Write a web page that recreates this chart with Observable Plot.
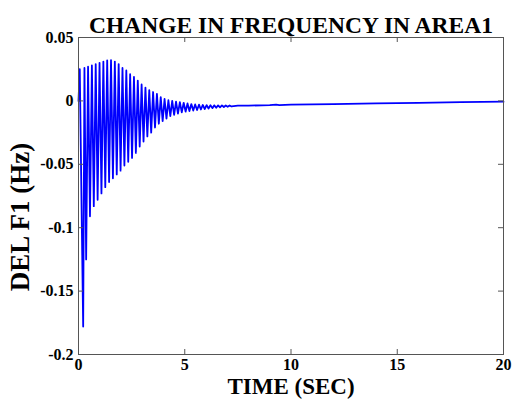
<!DOCTYPE html>
<html>
<head>
<meta charset="utf-8">
<script src="https://cdn.jsdelivr.net/npm/d3@7"></script>
<script src="https://cdn.jsdelivr.net/npm/@observablehq/plot@0.6"></script>
<style>
  html, body { margin: 0; padding: 0; background: #fff; }
</style>
</head>
<body>
<div id="chart"></div>
<script>
const chartTitle = "CHANGE IN FREQUENCY IN AREA1";
const xLabel = "TIME (SEC)";
const yLabel = "DEL F1 (Hz)";
const xTicks = [0, 5, 10, 15, 20];
const xTickLabels = ["0", "5", "10", "15", "20"];
const yTicks = [0.05, 0, -0.05, -0.1, -0.15, -0.2];
const yTickLabels = ["0.05", "0", "-0.05", "-0.1", "-0.15", "-0.2"];

// time (s) of successive peaks / troughs
const time = [
  0.00, 0.06, 0.22, 0.28, 0.36, 0.45, 0.54, 0.63, 0.72, 0.81,
  0.90, 0.99, 1.08, 1.17, 1.26, 1.35, 1.44, 1.53, 1.62, 1.71,
  1.80, 1.89, 1.98, 2.07, 2.16, 2.25, 2.34, 2.43, 2.52, 2.61,
  2.70, 2.79, 2.88, 2.97, 3.06, 3.15, 3.24, 3.33, 3.42, 3.51,
  3.60, 3.69, 3.78, 3.87, 3.96, 4.05, 4.14, 4.23, 4.32, 4.41,
  4.50, 4.59, 4.68, 4.77, 4.86, 4.95, 5.04, 5.13, 5.22, 5.31,
  5.40, 5.49, 5.58, 5.67, 5.76, 5.85, 5.94, 6.03, 6.12, 6.21,
  6.30, 6.39, 6.48, 6.57, 6.66, 6.75, 6.84, 6.93, 7.02, 7.11,
  7.20, 7.50, 8.00, 9.00, 9.30, 9.45, 10.0, 12.0, 14.0, 16.0,
  18.0, 20.0
];
// DEL F1 (Hz) at those times
const delF1 = [
  0.000, 0.025, -0.178, 0.026, -0.125, 0.027, -0.091, 0.028, -0.083, 0.029,
  -0.078, 0.030, -0.073, 0.031, -0.068, 0.032, -0.064, 0.0322, -0.061, 0.031,
  -0.058, 0.029, -0.055, 0.026, -0.051, 0.024, -0.048, 0.021, -0.045, 0.019,
  -0.041, 0.016, -0.036, 0.013, -0.032, 0.0105, -0.028, 0.0085, -0.025, 0.007,
  -0.021, 0.0055, -0.018, 0.003, -0.016, 0.0015, -0.014, 0.0005, -0.012, 0.000,
  -0.011, -0.0005, -0.010, -0.001, -0.009, -0.0015, -0.0085, -0.002, -0.008, -0.0025,
  -0.0076, -0.0028, -0.0072, -0.003, -0.0068, -0.0032, -0.0064, -0.0033, -0.006, -0.0034,
  -0.0057, -0.0035, -0.0054, -0.0035, -0.0051, -0.0035, -0.0048, -0.0036, -0.0046, -0.0036,
  -0.0044, -0.0038, -0.0037, -0.0034, -0.0030, -0.0034, -0.0030, -0.0025, -0.0020, -0.0015,
  -0.0010, -0.0006
];

const W = 512, H = 403;
const mL = 78, mR = 9, mT = 37, mB = 49;
const plotW = W - mL - mR, plotH = H - mT - mB;
const tick = 5;
const font = "'Liberation Serif', 'Times New Roman', serif";

const rows = time.map((t, i) => ({t, v: delF1[i]}));

const chart = Plot.plot({
  width: W,
  height: H,
  marginLeft: mL,
  marginRight: mR,
  marginTop: mT,
  marginBottom: mB,
  style: {fontFamily: font, fontWeight: "bold", background: "#fff", color: "#000"},
  x: {domain: [0, 20]},
  y: {domain: [-0.2, 0.05]},
  marks: [
    Plot.line(rows, {x: "t", y: "v", stroke: "#0000ff", strokeWidth: 1.8}),
    // inward ticks on all four sides
    Plot.tickX(xTicks, {x: d => d, insetTop: plotH - tick, stroke: "#555"}),
    Plot.tickX(xTicks, {x: d => d, insetBottom: plotH - tick, stroke: "#555"}),
    Plot.tickY(yTicks, {y: d => d, insetRight: plotW - tick, stroke: "#555"}),
    Plot.tickY(yTicks, {y: d => d, insetLeft: plotW - tick, stroke: "#555"}),
    Plot.frame({stroke: "#555"}),
    Plot.axisX(xTicks, {tickSize: 0, tickPadding: 4, fontSize: 16, fontWeight: "bold", label: null,
      tickFormat: d => xTickLabels[xTicks.indexOf(d)]}),
    Plot.axisY(yTicks, {tickSize: 0, tickPadding: 5, fontSize: 16, fontWeight: "bold", label: null,
      tickFormat: d => yTickLabels[yTicks.indexOf(d)]}),
    Plot.text([chartTitle], {frameAnchor: "top", dy: -21, fontSize: 23.5, fontWeight: "bold", fill: "#000"}),
    Plot.text([xLabel], {frameAnchor: "bottom", dy: 39.5, fontSize: 23, fontWeight: "bold", fill: "#000"}),
    Plot.text([yLabel], {frameAnchor: "left", textAnchor: "middle", dx: -58, dy: 21, rotate: -90, fontSize: 27, fontWeight: "bold", fill: "#000"})
  ]
});
document.getElementById("chart").appendChild(chart);
</script>
</body>
</html>
